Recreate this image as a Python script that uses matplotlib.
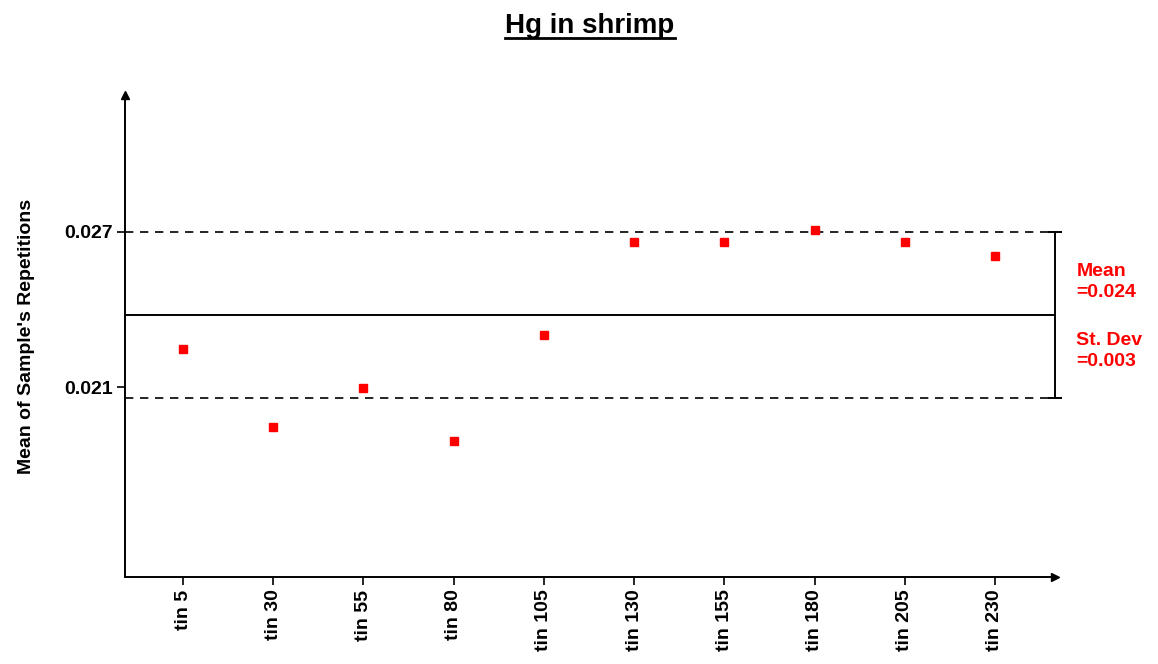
import matplotlib.pyplot as plt
from matplotlib.lines import Line2D
import numpy as np

plt.rcParams['font.family'] = ['Liberation Sans', 'DejaVu Sans']

samples = ["tin 5", "tin 30", "tin 55", "tin 80", "tin 105",
           "tin 130", "tin 155", "tin 180", "tin 205", "tin 230"]
means = [0.02248, 0.01947, 0.02097, 0.01893, 0.02302,
         0.02660, 0.02660, 0.02707, 0.02660, 0.02606]
y_ticks = [0.021, 0.027]

mean = np.mean(means)
sd = np.std(means, ddof=1)

fig = plt.figure(figsize=(11.58, 6.64), dpi=100)
ax = fig.add_axes([0.108, 0.131, 0.803, 0.726])

x = np.arange(len(samples))
xmin, xmax = -0.643, 9.665
ax.set_xlim(xmin, xmax)
ax.set_ylim(0.013685, 0.03227)

# mean line, +/- one st. dev. dashed
ax.plot([xmin, xmax], [mean, mean], color='black', lw=1.4)
for lim in (mean - sd, mean + sd):
    ax.plot([xmin, xmax], [lim, lim], color='black', lw=1.2,
            dashes=(5, 4))
ax.errorbar([xmax], [mean], yerr=[sd], color='black', lw=1.4,
            capsize=5, capthick=1.4, clip_on=False)

ax.plot(x, means, 's', color='red', ms=5.5, zorder=5)

ax.text(1.023, 0.612, "Mean\n=%.3f" % mean, transform=ax.transAxes,
        color='red', fontsize=14, fontweight='bold', va='center',
        linespacing=1.35)
ax.text(1.023, 0.469, "St. Dev\n=%.3f" % sd, transform=ax.transAxes,
        color='red', fontsize=14, fontweight='bold', va='center',
        linespacing=1.35)

ax.spines['top'].set_visible(False)
ax.spines['right'].set_visible(False)
for s in ('left', 'bottom'):
    ax.spines[s].set_linewidth(1.4)

# arrow heads at the end of each axis
ax.plot([0], [1], marker='^', color='black', ms=6, transform=ax.transAxes,
        clip_on=False)
ax.plot([1], [0], marker='>', color='black', ms=6, transform=ax.transAxes,
        clip_on=False)

ax.set_xticks(x)
ax.set_xticklabels(samples, rotation=90, fontsize=14, fontweight='bold')
ax.set_yticks(y_ticks)
ax.set_yticklabels(["%.3f" % v for v in y_ticks], fontsize=14,
                   fontweight='bold')
ax.tick_params(direction='out', length=6, width=1.2, pad=3)
ax.set_ylabel("Mean of Sample's Repetitions", fontsize=14,
              fontweight='bold')
ax.yaxis.set_label_coords(-0.097, 0.5)

title = fig.text(0.5095, 0.961, "Hg in shrimp", ha='center', va='center',
                 fontsize=20, fontweight='bold')
fig.canvas.draw()
bb = title.get_window_extent().transformed(fig.transFigure.inverted())
fig.add_artist(Line2D([bb.x0, bb.x1], [bb.y0 + 0.002, bb.y0 + 0.002],
                      color='black', lw=2, transform=fig.transFigure))

fig.savefig("out.png", dpi=100)
